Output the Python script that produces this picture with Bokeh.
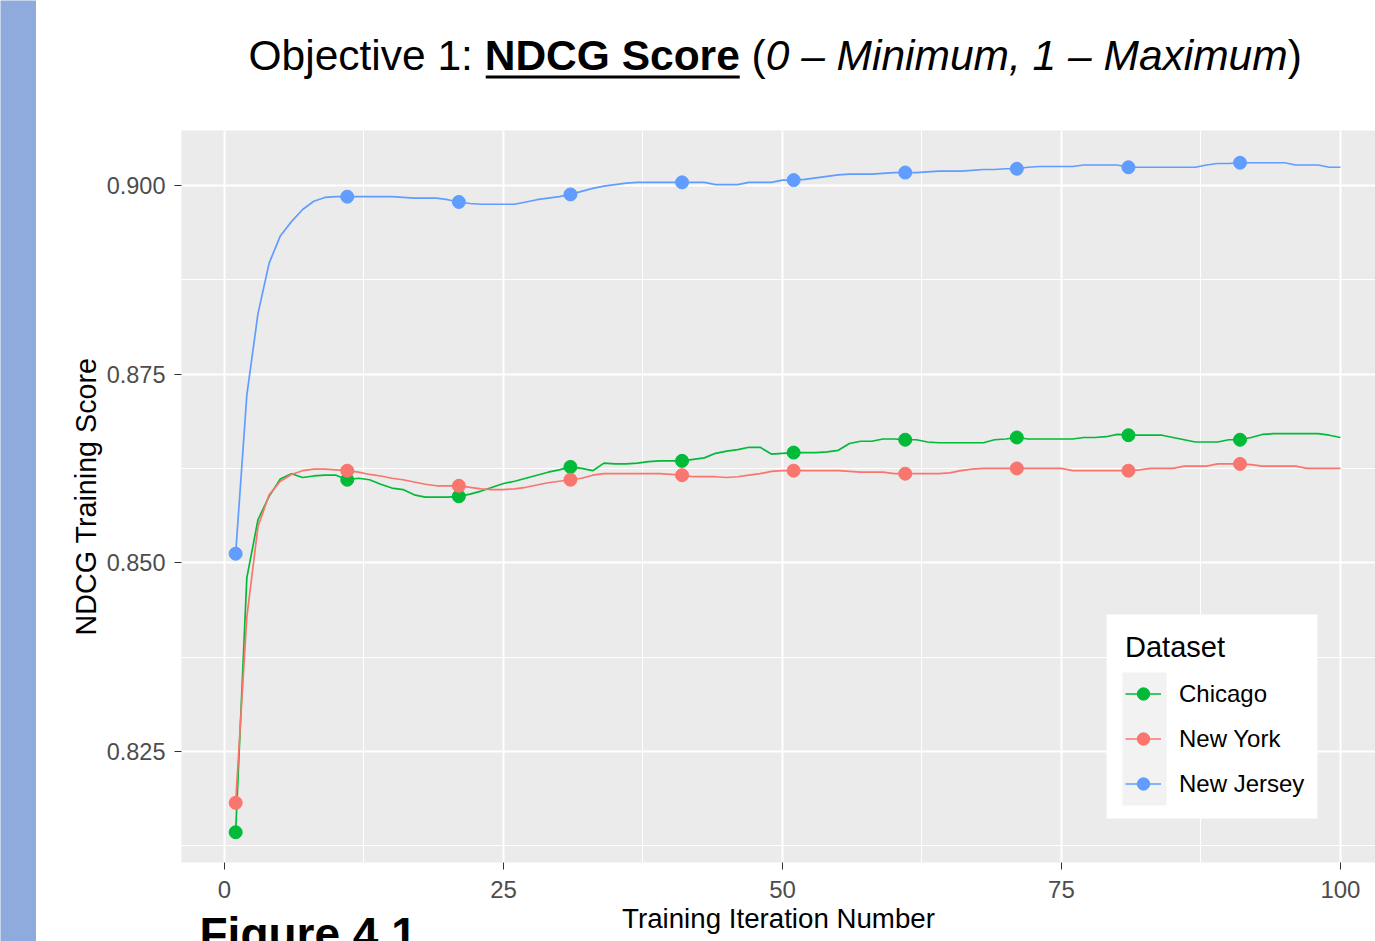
from bokeh.plotting import figure
from bokeh.layouts import row, column
from bokeh.models import (FixedTicker, PrintfTickFormatter, BoxAnnotation,
                          Legend, LegendItem, Range1d, Title)
from bokeh.core.properties import value
from bokeh.embed import file_html
from bokeh.resources import INLINE

# ---------------- data ----------------
iterations = list(range(1, 101))
point_iterations = [1, 11, 21, 31, 41, 51, 61, 71, 81, 91]

chicago = [
    0.8143, 0.8480, 0.8557, 0.8588, 0.8611, 0.8618, 0.8613, 0.8615, 0.8616, 0.8616,
    0.8610, 0.8612, 0.8610, 0.8604, 0.8599, 0.8597, 0.8590, 0.8587, 0.8587, 0.8587,
    0.8588, 0.8591, 0.8595, 0.8600, 0.8605, 0.8608, 0.8612, 0.8616, 0.8620, 0.8623,
    0.8627, 0.8625, 0.8622, 0.8632, 0.8631, 0.8631, 0.8632, 0.8634, 0.8635, 0.8635,
    0.8635, 0.8637, 0.8639, 0.8645, 0.8648, 0.8650, 0.8653, 0.8653, 0.8644, 0.8645,
    0.8646, 0.8646, 0.8646, 0.8647, 0.8649, 0.8658, 0.8661, 0.8661, 0.8664, 0.8664,
    0.8663, 0.8663, 0.8660, 0.8659, 0.8659, 0.8659, 0.8659, 0.8659, 0.8663, 0.8664,
    0.8666, 0.8664, 0.8664, 0.8664, 0.8664, 0.8664, 0.8666, 0.8666, 0.8667, 0.8670,
    0.8669, 0.8669, 0.8669, 0.8669, 0.8666, 0.8663, 0.8660, 0.8660, 0.8660, 0.8663,
    0.8663, 0.8666, 0.8670, 0.8671, 0.8671, 0.8671, 0.8671, 0.8671, 0.8669, 0.8666,
]

new_york = [
    0.8182, 0.8428, 0.8548, 0.8590, 0.8608, 0.8617, 0.8622, 0.8624, 0.8624, 0.8623,
    0.8622, 0.8620, 0.8617, 0.8615, 0.8612, 0.8610, 0.8607, 0.8604, 0.8602, 0.8602,
    0.8602, 0.8600, 0.8598, 0.8597, 0.8597, 0.8598, 0.8600, 0.8603, 0.8606, 0.8608,
    0.8610, 0.8612, 0.8616, 0.8618, 0.8618, 0.8618, 0.8618, 0.8618, 0.8618, 0.8617,
    0.8616, 0.8614, 0.8614, 0.8614, 0.8613, 0.8614, 0.8616, 0.8618, 0.8621, 0.8622,
    0.8622, 0.8622, 0.8622, 0.8622, 0.8622, 0.8621, 0.8620, 0.8620, 0.8620, 0.8618,
    0.8618, 0.8618, 0.8618, 0.8618, 0.8619, 0.8622, 0.8624, 0.8625, 0.8625, 0.8625,
    0.8625, 0.8625, 0.8625, 0.8625, 0.8625, 0.8622, 0.8622, 0.8622, 0.8622, 0.8622,
    0.8622, 0.8623, 0.8625, 0.8625, 0.8625, 0.8628, 0.8628, 0.8628, 0.8631, 0.8631,
    0.8631, 0.8630, 0.8628, 0.8628, 0.8628, 0.8628, 0.8625, 0.8625, 0.8625, 0.8625,
]

new_jersey = [
    0.8512, 0.8722, 0.8830, 0.8897, 0.8933, 0.8952, 0.8968, 0.8979, 0.8984, 0.8985,
    0.8985, 0.8985, 0.8985, 0.8985, 0.8985, 0.8984, 0.8983, 0.8983, 0.8983, 0.8981,
    0.8978, 0.8976, 0.8975, 0.8975, 0.8975, 0.8975, 0.8978, 0.8981, 0.8983, 0.8985,
    0.8988, 0.8992, 0.8996, 0.8999, 0.9001, 0.9003, 0.9004, 0.9004, 0.9004, 0.9004,
    0.9004, 0.9004, 0.9004, 0.9001, 0.9001, 0.9001, 0.9004, 0.9004, 0.9004, 0.9007,
    0.9007, 0.9008, 0.9010, 0.9012, 0.9014, 0.9015, 0.9015, 0.9015, 0.9016, 0.9017,
    0.9017, 0.9017, 0.9018, 0.9019, 0.9019, 0.9019, 0.9020, 0.9021, 0.9021, 0.9022,
    0.9022, 0.9024, 0.9025, 0.9025, 0.9025, 0.9025, 0.9027, 0.9027, 0.9027, 0.9027,
    0.9024, 0.9024, 0.9024, 0.9024, 0.9024, 0.9024, 0.9024, 0.9027, 0.9029, 0.9029,
    0.9030, 0.9030, 0.9030, 0.9030, 0.9030, 0.9027, 0.9027, 0.9027, 0.9024, 0.9024,
]

series_names = ["Chicago", "New York", "New Jersey"]
series_values = [chicago, new_york, new_jersey]
series_colors = ["#00BA38", "#F8766D", "#619CFF"]

x_ticks = [0, 25, 50, 75, 100]
x_minor = [12.5, 37.5, 62.5, 87.5]
y_ticks = [0.825, 0.850, 0.875, 0.900]
y_minor = [0.8125, 0.8375, 0.8625, 0.8875]

# title pieces: (text, style, leading gap in em, advance width in em)
title_pieces = [
    ("Objective 1:", "normal", 0.0, 5.558),
    ("NDCG Score", "bold", 0.0, 6.001),
    ("(", "normal", 0.278, 0.611),
    ("0 \u2013 Minimum, 1 \u2013 Maximum", "italic", 0.0, 12.28),
    (")", "normal", 0.0, 0.333),
]

FONT = "Liberation Sans"

TOTAL_W, TOTAL_H = 1375, 941
BAR_W = 36
TITLE_H = 130
MAIN_W = TOTAL_W - BAR_W
MAIN_H = TOTAL_H - TITLE_H
LEFT_BORDER = 145            # plot frame starts at x = 181 on the page
FRAME_LEFT_PAGE = BAR_W + LEFT_BORDER

# ---------------- left bar ----------------
bar = figure(width=BAR_W, height=TOTAL_H, output_backend="svg", toolbar_location=None,
             x_axis_location=None, y_axis_location=None,
             min_border=0, x_range=Range1d(0, 1), y_range=Range1d(0, 1))
bar.background_fill_color = "#8FAADC"
bar.border_fill_color = "#8FAADC"
bar.outline_line_color = None
bar.grid.visible = False

# ---------------- title strip (same side borders as the plot) ----------------
tfig = figure(width=MAIN_W, height=TITLE_H, output_backend="svg", toolbar_location=None,
              x_axis_location=None, y_axis_location=None,
              min_border_left=LEFT_BORDER, min_border_right=0,
              min_border_top=0, min_border_bottom=0,
              x_range=Range1d(FRAME_LEFT_PAGE, TOTAL_W), y_range=Range1d(TITLE_H, 0))
tfig.background_fill_color = "white"
tfig.border_fill_color = "white"
tfig.outline_line_color = None
tfig.grid.visible = False

fs = 42.5
cx = 248.0
base_y = 69.3
mid_y = base_y - 0.3465 * fs
for txt, style, gap, em in title_pieces:
    tfig.text(x=[cx + gap * fs], y=[mid_y], text=[txt], text_font=value(FONT),
              text_font_size=value(f"{fs}px"), text_font_style=value(style),
              text_color="black", text_align=value("left"),
              text_baseline=value("middle"))
    if style == "bold":
        tfig.quad(left=[cx + 1], right=[cx + em * fs], top=[base_y + 5.7],
                  bottom=[base_y + 8.7], fill_color="black", line_color=None)
    cx += em * fs

# ---------------- main plot ----------------
p = figure(width=MAIN_W, height=MAIN_H, output_backend="svg", toolbar_location=None,
           x_range=Range1d(-3.853, 103.14), y_range=Range1d(0.81029, 0.90727),
           min_border_left=LEFT_BORDER, min_border_right=0, min_border_top=0,
           min_border_bottom=79)
p.background_fill_color = "#EBEBEB"
p.border_fill_color = "white"
p.outline_line_color = None

p.xaxis.ticker = FixedTicker(ticks=x_ticks, minor_ticks=x_minor)
p.yaxis.ticker = FixedTicker(ticks=y_ticks, minor_ticks=y_minor)
p.yaxis.formatter = PrintfTickFormatter(format="%.3f")

for g in (p.xgrid, p.ygrid):
    g.grid_line_color = "white"
    g.grid_line_width = 2
    g.minor_grid_line_color = "white"
    g.minor_grid_line_width = 1

for ax in (p.xaxis, p.yaxis):
    ax.axis_line_color = None
    ax.major_tick_line_color = "#333333"
    ax.major_tick_line_width = 1
    ax.major_tick_out = 7
    ax.major_tick_in = 0
    ax.minor_tick_line_color = None
    ax.major_label_text_color = "#4D4D4D"
    ax.major_label_text_font = FONT
    ax.axis_label_text_font = FONT
    ax.axis_label_text_font_style = "normal"
    ax.axis_label_text_color = "black"

p.xaxis.major_label_text_font_size = "24px"
p.yaxis.major_label_text_font_size = "23.5px"
p.xaxis.major_label_standoff = 11
p.yaxis.major_label_standoff = 9
p.xaxis.axis_label = "Training Iteration Number"
p.yaxis.axis_label = "NDCG Training Score"
p.xaxis.axis_label_text_font_size = "27.7px"
p.yaxis.axis_label_text_font_size = "28.7px"
p.xaxis.axis_label_standoff = 2
p.yaxis.axis_label_standoff = 2

# lines then points
line_rs, pt_rs = [], []
for vals, col in zip(series_values, series_colors):
    line_rs.append(p.line(iterations, vals, line_color=col, line_width=1.7))
for vals, col in zip(series_values, series_colors):
    py = [vals[iterations.index(i)] for i in point_iterations]
    pt_rs.append(p.scatter(point_iterations, py, marker="circle", size=13,
                           fill_color=col, line_color=col))

# legend background + key area (canvas px of the main plot)
p.add_layout(BoxAnnotation(left=1070, right=1281, top=484, bottom=688,
                           left_units="canvas", right_units="canvas",
                           top_units="canvas", bottom_units="canvas",
                           fill_color="white", fill_alpha=1, line_color=None))
p.add_layout(BoxAnnotation(left=1086, right=1130, top=542, bottom=675,
                           left_units="canvas", right_units="canvas",
                           top_units="canvas", bottom_units="canvas",
                           fill_color="#F2F2F2", fill_alpha=1, line_color=None))

items = [LegendItem(label=n, renderers=[l, s]) for n, l, s in zip(series_names, line_rs, pt_rs)]
legend = Legend(items=items, location=(944, 63), title="Dataset",
                title_text_font=FONT, title_text_font_size="29px",
                title_text_font_style="normal", title_text_color="black",
                title_standoff=14,
                label_text_font=FONT, label_text_font_size="24px",
                label_text_color="black",
                glyph_width=36, glyph_height=31, spacing=14, label_standoff=18,
                padding=10, margin=0,
                background_fill_alpha=0, border_line_color=None)
p.add_layout(legend, "center")

# caption under the plot, cut by the bottom edge as in the source
cap = Title(text="Figure 4.1", align="left", offset=18, vertical_align="top",
            text_font=FONT, text_font_size="46px", text_font_style="bold",
            text_color="black")
try:
    cap.standoff = -58
except Exception:
    cap.standoff = 0
p.add_layout(cap, "below")

layout = row(bar, column(tfig, p, spacing=0), spacing=0)
open("out.html", "w").write(file_html(layout, INLINE))
